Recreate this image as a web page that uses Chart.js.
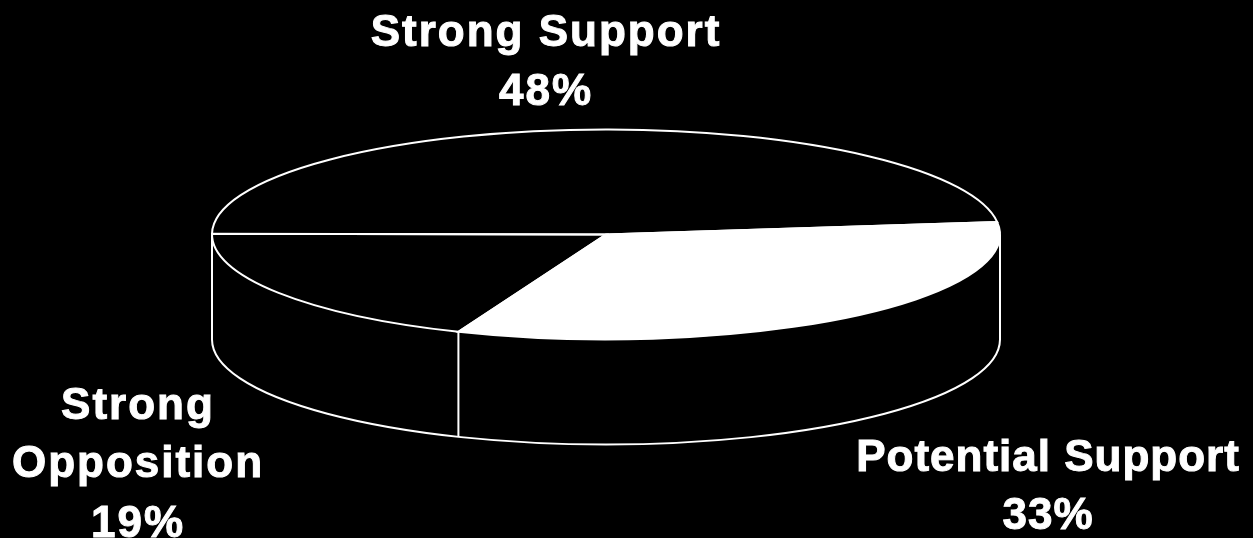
<!DOCTYPE html>
<html>
<head>
<meta charset="utf-8">
<title>Support pie</title>
<script src="https://cdn.jsdelivr.net/npm/chart.js@4"></script>
<style>
  html, body { margin: 0; padding: 0; background: #000; }
  canvas { display: block; }
</style>
</head>
<body>
<canvas id="supportPie" width="1253" height="538"></canvas>
<script>
const categories = ['Strong Support', 'Potential Support', 'Strong Opposition'];
const shares = [48, 33, 19];
const sliceColors = ['#000000', '#ffffff', '#000000'];

// how each category label wraps, and where its lines sit (center x, baselines, tracking)
const labelLines = [['Strong Support'], ['Potential Support'], ['Strong', 'Opposition']];
const labelX = [546, 1048, 138];
const labelBaselines = [[46, 105], [471, 529], [419, 477, 537]];
const labelTracking = ['2px', '1px', '2px'];

const squash = 105 / 394; // top face is a circle flattened to this ratio
const depth = 105;        // height of the side wall

const pie3d = {
  id: 'pie3d',
  beforeDatasetsDraw(chart) {
    const ctx = chart.ctx;
    const arcs = chart.getDatasetMeta(0).data;
    const { x, y, outerRadius: r } = arcs[0];
    const ry = r * squash;

    ctx.save();
    ctx.strokeStyle = '#fff';
    ctx.lineWidth = 2;
    ctx.beginPath();
    ctx.moveTo(x - r, y);
    ctx.lineTo(x - r, y + depth);
    ctx.ellipse(x, y + depth, r, ry, 0, Math.PI, 0, true);
    ctx.lineTo(x + r, y);
    ctx.stroke();
    // seams where a slice edge meets the front of the wall
    arcs.forEach(arc => {
      const a = ((arc.endAngle % (2 * Math.PI)) + 2 * Math.PI) % (2 * Math.PI);
      if (a > 0 && a < Math.PI) {
        const sx = x + r * Math.cos(a);
        const sy = y + ry * Math.sin(a);
        ctx.beginPath();
        ctx.moveTo(sx, sy);
        ctx.lineTo(sx, sy + depth);
        ctx.stroke();
      }
    });
    ctx.restore();

    // flatten the pie the library draws next
    ctx.save();
    ctx.translate(x, y);
    ctx.scale(1, squash);
    ctx.translate(-x, -y);
  },
  afterDatasetsDraw(chart) {
    const ctx = chart.ctx;
    ctx.restore();

    // outlines are stroked here so the line width stays even
    const arcs = chart.getDatasetMeta(0).data;
    ctx.save();
    ctx.strokeStyle = '#fff';
    ctx.lineWidth = 2;
    arcs.forEach(arc => {
      const ry = arc.outerRadius * squash;
      ctx.beginPath();
      ctx.moveTo(arc.x, arc.y);
      ctx.ellipse(arc.x, arc.y, arc.outerRadius, ry, 0, arc.startAngle, arc.endAngle);
      ctx.closePath();
      ctx.stroke();
    });
    ctx.restore();
  },
  afterDraw(chart) {
    const ctx = chart.ctx;
    ctx.save();
    ctx.fillStyle = '#fff';
    ctx.strokeStyle = '#fff';
    ctx.lineWidth = 1;
    ctx.textAlign = 'center';
    ctx.font = 'bold 44px "Liberation Sans"';
    categories.forEach((name, i) => {
      ctx.letterSpacing = labelTracking[i];
      const lines = labelLines[i].concat(shares[i] + '%');
      lines.forEach((line, j) => {
        ctx.fillText(line, labelX[i], labelBaselines[i][j]);
        ctx.strokeText(line, labelX[i], labelBaselines[i][j]);
      });
    });
    ctx.restore();
  }
};

new Chart(document.getElementById('supportPie'), {
  type: 'pie',
  data: {
    labels: categories,
    datasets: [{
      data: shares,
      backgroundColor: sliceColors,
      borderWidth: 0,
      radius: 394
    }]
  },
  options: {
    responsive: false,
    animation: false,
    rotation: 270.4,
    layout: { padding: { right: 41, bottom: 69 } },
    plugins: {
      legend: { display: false },
      tooltip: { enabled: false }
    }
  },
  plugins: [pie3d]
});
</script>
</body>
</html>
